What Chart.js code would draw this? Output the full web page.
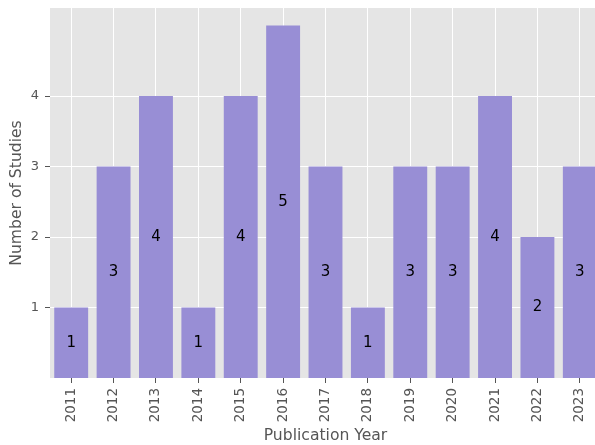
<!DOCTYPE html>
<html>
<head>
<meta charset="utf-8">
<script src="https://cdn.jsdelivr.net/npm/chart.js@4"></script>
<style>
  html, body { margin: 0; padding: 0; background: #fff; overflow: hidden; }
  #wrap { width: 605px; height: 445px; }
</style>
</head>
<body>
<div id="wrap"><canvas id="studyChart"></canvas></div>
<script>
const years = ['2011', '2012', '2013', '2014', '2015', '2016', '2017', '2018', '2019', '2020', '2021', '2022', '2023'];
const studyCounts = [1, 3, 4, 1, 4, 5, 3, 1, 3, 3, 4, 2, 3];
const yTickValues = [1, 2, 3, 4];

var ctx = document.getElementById('studyChart').getContext('2d');

// grey panel behind the bars, ggplot look
const panelBackground = {
        id: 'panelBackground',
        beforeDraw: function(chart) {
                var a = chart.chartArea;
                chart.ctx.save();
                chart.ctx.fillStyle = '#E5E5E5';
                chart.ctx.fillRect(a.left, a.top, a.right - a.left, a.bottom - a.top);
                chart.ctx.restore();
        }
};

// count written in the middle of each bar
const barLabels = {
        id: 'barLabels',
        afterDatasetsDraw: function(chart) {
                var c = chart.ctx;
                var meta = chart.getDatasetMeta(0);
                c.save();
                c.font = '15px "DejaVu Sans"';
                c.fillStyle = '#000';
                c.textAlign = 'center';
                c.textBaseline = 'middle';
                meta.data.forEach(function(bar, i) {
                        c.fillText(String(studyCounts[i]), bar.x, (bar.y + bar.base) / 2);
                });
                c.restore();
        }
};

var chart = new Chart(ctx, {
        type: 'bar',
        data: {
                labels: years,
                datasets: [{
                        label: 'Studies',
                        data: studyCounts,
                        backgroundColor: '#988ED5',
                        categoryPercentage: 0.8,
                        barPercentage: 1.0
                }]
        },
        options: {
                responsive: true,
                maintainAspectRatio: false,
                animation: false,
                layout: { padding: { top: 8, right: 4, left: 0, bottom: 0 } },
                plugins: {
                        legend: { display: false },
                        tooltip: { enabled: false }
                },
                scales: {
                        x: {
                                offset: true,
                                border: { display: false },
                                grid: {
                                        offset: false,
                                        color: '#FFFFFF',
                                        lineWidth: 1,
                                        tickColor: '#555555',
                                        tickLength: 5
                                },
                                ticks: {
                                        color: '#555555',
                                        font: { family: 'DejaVu Sans', size: 13.5 },
                                        minRotation: 90,
                                        maxRotation: 90,
                                        padding: 5
                                },
                                title: {
                                        display: true,
                                        text: 'Publication Year',
                                        color: '#555555',
                                        font: { family: 'DejaVu Sans', size: 15.6 },
                                        padding: { top: 0, bottom: 0 }
                                },
                                afterFit: function(scale) {
                                        scale.height = 67;
                                        scale.paddingLeft = 0;
                                        scale.paddingRight = 0;
                                }
                        },
                        y: {
                                min: 0,
                                max: 5.25,
                                border: { display: false },
                                grid: {
                                        color: '#FFFFFF',
                                        lineWidth: 1,
                                        tickColor: '#555555',
                                        tickLength: 5
                                },
                                ticks: {
                                        color: '#555555',
                                        font: { family: 'DejaVu Sans', size: 13 },
                                        padding: 6
                                },
                                afterBuildTicks: function(scale) {
                                        scale.ticks = yTickValues.map(function(v) { return { value: v }; });
                                },
                                title: {
                                        display: true,
                                        text: 'Number of Studies',
                                        color: '#555555',
                                        font: { family: 'DejaVu Sans', size: 15.6 },
                                        padding: { top: 8, bottom: 0 }
                                },
                                afterFit: function(scale) {
                                        scale.width = 50;
                                        scale.paddingTop = 0;
                                        scale.paddingBottom = 0;
                                }
                        }
                }
        },
        plugins: [panelBackground, barLabels]
});
</script>
</body>
</html>
